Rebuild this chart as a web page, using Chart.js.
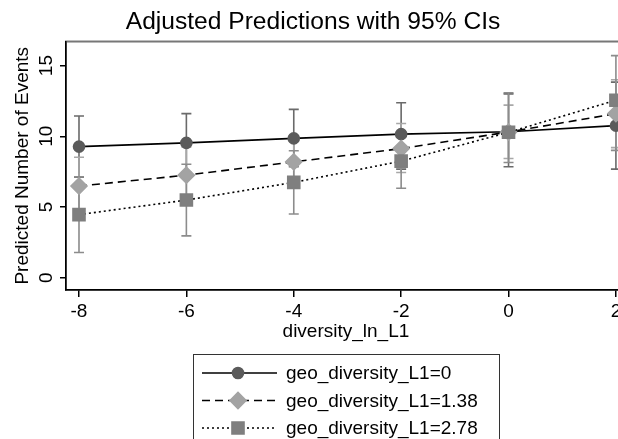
<!DOCTYPE html>
<html>
<head>
<meta charset="utf-8">
<script src="https://cdn.jsdelivr.net/npm/chart.js@4.4.1/dist/chart.umd.min.js"></script>
<style>
  html, body { margin: 0; padding: 0; background: #fff; overflow: hidden; }
  #wrap { width: 636px; height: 439px; }
</style>
</head>
<body>
<div id="wrap"><canvas id="marginsChart" width="636" height="439"></canvas></div>
<script>
// values (margins at each diversity_ln_L1 value)
const xValues = [-8, -6, -4, -2, 0, 2];
const xTicks = [-8, -6, -4, -2, 0, 2];
const yTicks = [0, 5, 10, 15];
const seriesNames = ['geo_diversity_L1=0', 'geo_diversity_L1=1.38', 'geo_diversity_L1=2.78'];

const geo0   = [9.27, 9.53, 9.85, 10.15, 10.32, 10.75];
const geo0Lo = [7.10, 7.45, 7.85, 7.68, 7.84, 7.68];
const geo0Hi = [11.43, 11.60, 11.90, 12.37, 13.00, 13.83];

const geo138   = [6.48, 7.25, 8.19, 9.13, 10.30, 11.60];
const geo138Lo = [4.46, 5.25, 6.70, 7.44, 8.43, 9.20];
const geo138Hi = [8.52, 9.25, 9.70, 10.90, 12.20, 14.00];

const geo278   = [4.46, 5.49, 6.74, 8.24, 10.28, 12.55];
const geo278Lo = [1.78, 2.96, 4.50, 6.32, 8.15, 9.00];
const geo278Hi = [7.13, 8.02, 8.98, 10.16, 13.08, 15.70];

const FONT = '"Liberation Sans", Arial, sans-serif';
Chart.defaults.font.family = FONT;
Chart.defaults.color = '#000';

const toPoints = vals => xValues.map((x, i) => ({x: x, y: vals[i]}));

// plot region outline (grey), axes drawn over it
const frame = {
  id: 'frame',
  beforeDraw(chart) {
    const {ctx, chartArea: a} = chart;
    ctx.save();
    ctx.strokeStyle = '#777';
    ctx.lineWidth = 2;
    ctx.strokeRect(a.left, a.top, a.right - a.left, a.bottom - a.top);
    ctx.restore();
  }
};

// capped CI spikes under the connected markers
const ciBars = {
  id: 'ciBars',
  beforeDatasetsDraw(chart) {
    const {ctx, scales: {x, y}} = chart;
    chart.data.datasets.forEach(ds => {
      ctx.save();
      ctx.strokeStyle = ds.ciColor;
      ctx.lineWidth = 1.6;
      ds.ciLo.forEach((lo, i) => {
        const px = x.getPixelForValue(xValues[i]);
        const top = y.getPixelForValue(ds.ciHi[i]);
        const bot = y.getPixelForValue(lo);
        ctx.beginPath();
        ctx.moveTo(px, top); ctx.lineTo(px, bot);
        ctx.moveTo(px - 5, top); ctx.lineTo(px + 5, top);
        ctx.moveTo(px - 5, bot); ctx.lineTo(px + 5, bot);
        ctx.stroke();
      });
      ctx.restore();
    });
  }
};

// Stata-like boxed legend under the axis title
const boxLegend = {
  id: 'boxLegend',
  afterDraw(chart) {
    const {ctx, chartArea: a} = chart;
    const w = 306;
    const left = Math.round((a.left + a.right) / 2 - w / 2);
    const top = Math.round(a.bottom + 64);
    ctx.save();
    ctx.strokeStyle = '#333';
    ctx.lineWidth = 1;
    ctx.strokeRect(left + 0.5, top + 0.5, w, 120);
    ctx.font = '19px ' + FONT;
    ctx.textBaseline = 'middle';
    chart.data.datasets.forEach((ds, i) => {
      const yy = top + 19 + i * 27.5;
      ctx.beginPath();
      ctx.setLineDash(ds.borderDash || []);
      ctx.lineWidth = ds.borderWidth;
      ctx.strokeStyle = '#000';
      ctx.moveTo(left + 9, yy);
      ctx.lineTo(left + 84, yy);
      ctx.stroke();
      ctx.setLineDash([]);
      ctx.fillStyle = ds.pointBackgroundColor;
      ctx.strokeStyle = ds.pointBackgroundColor;
      Chart.helpers.drawPoint(ctx, {pointStyle: ds.pointStyle, radius: ds.pointRadius, borderWidth: 1, rotation: 0}, left + 45, yy);
      ctx.fillStyle = '#000';
      ctx.fillText(seriesNames[i], left + 93, yy + 1);
    });
    ctx.restore();
  }
};

const chartData = {
  datasets: [
    {
      label: seriesNames[0], data: toPoints(geo0), ciLo: geo0Lo, ciHi: geo0Hi, ciColor: '#6a6a6a',
      borderColor: '#000', borderWidth: 1.6, pointStyle: 'circle', pointRadius: 5.5,
      pointBackgroundColor: '#5b5b5b', pointBorderColor: '#5b5b5b', order: 3
    },
    {
      label: seriesNames[1], data: toPoints(geo138), ciLo: geo138Lo, ciHi: geo138Hi, ciColor: '#a8a8a8',
      borderColor: '#000', borderWidth: 1.6, borderDash: [8, 5], pointStyle: 'rectRot', pointRadius: 8,
      pointBackgroundColor: '#a3a3a3', pointBorderColor: '#a3a3a3', order: 2
    },
    {
      label: seriesNames[2], data: toPoints(geo278), ciLo: geo278Lo, ciHi: geo278Hi, ciColor: '#8c8c8c',
      borderColor: '#000', borderWidth: 1.6, borderDash: [2, 3], pointStyle: 'rect', pointRadius: 8.5,
      pointBackgroundColor: '#7f7f7f', pointBorderColor: '#7f7f7f', order: 1
    }
  ]
};

const marginsChart = new Chart(document.getElementById('marginsChart'), {
  type: 'line',
  data: chartData,
  plugins: [frame, ciBars, boxLegend],
  options: {
    responsive: false,
    animation: false,
    layout: {padding: {left: 0, right: 10, top: 0, bottom: 0}},
    plugins: {
      legend: {display: false},
      tooltip: {enabled: false},
      title: {
        display: true, text: 'Adjusted Predictions with 95% CIs',
        font: {size: 24.6, weight: 'normal'}, padding: {top: 7, bottom: 5}
      }
    },
    scales: {
      x: {
        type: 'linear', min: -8.242, max: 2.186,
        afterBuildTicks: s => { s.ticks = xTicks.map(v => ({value: v})); },
        afterFit: s => { s.height = 149; },
        grid: {display: true, drawOnChartArea: false, drawTicks: true, tickLength: 7, color: '#000', lineWidth: 1.5},
        border: {display: true, color: '#000', width: 1.5},
        ticks: {font: {size: 19}, padding: 3, autoSkip: false, maxRotation: 0},
        title: {display: true, text: 'diversity_ln_L1', font: {size: 19}, padding: {top: 0, bottom: 96}}
      },
      y: {
        type: 'linear', min: -0.87, max: 16.7,
        afterBuildTicks: s => { s.ticks = yTicks.map(v => ({value: v})); },
        afterFit: s => { s.width = 66; },
        grid: {display: true, drawOnChartArea: false, drawTicks: true, tickLength: 6, color: '#000', lineWidth: 1.5},
        border: {display: true, color: '#000', width: 1.5},
        ticks: {font: {size: 19}, padding: 3, autoSkip: false, minRotation: 90, maxRotation: 90, crossAlign: 'center'},
        title: {display: true, text: 'Predicted Number of Events', font: {size: 19}, padding: {top: 11, bottom: 0}}
      }
    }
  }
});
</script>
</body>
</html>
